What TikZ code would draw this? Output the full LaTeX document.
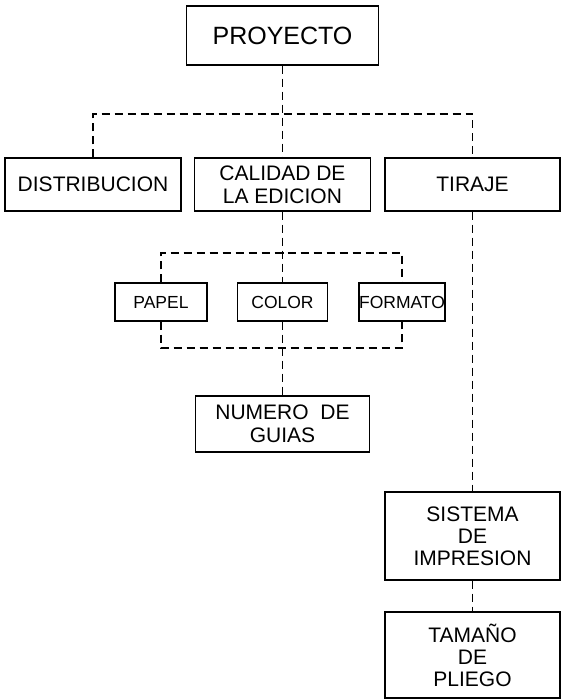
\documentclass[tikz,border=0pt]{standalone}
\usepackage{fontspec}
\setmainfont{Liberation Sans}
\begin{document}
\begin{tikzpicture}[x=1pt,y=1pt,
  bx/.style={draw, line width=1.3pt, inner sep=0pt, align=center,
    font=\fontsize{21}{23}\selectfont},
  sm/.style={bx, font=\fontsize{17.5}{19}\selectfont},
  dl/.style={line width=1.1pt, dash pattern=on 8pt off 5pt}]
\useasboundingbox (0,0) rectangle (562,-700);
\node[bx, minimum width=192, minimum height=59, font=\fontsize{25}{28}\selectfont] (proy) at (282.5,-35.5) {PROYECTO};
\node[bx, minimum width=176, minimum height=53] (dist) at (93,-184.5) {DISTRIBUCION};
\node[bx, minimum width=176, minimum height=53] (cal) at (282.5,-184.5) {CALIDAD DE\\LA EDICION};
\node[bx, minimum width=175, minimum height=53] (tir) at (472.5,-184.5) {TIRAJE};
\node[sm, minimum width=92, minimum height=38] (papel) at (161,-302) {PAPEL};
\node[sm, minimum width=90, minimum height=38] (color) at (282.5,-302) {COLOR};
\node[sm, minimum width=86, minimum height=38] (formato) at (402,-302) {FORMATO};
\node[bx, minimum width=174, minimum height=56] (num) at (282.5,-424) {NUMERO\ \ DE\\GUIAS};
\node[bx, minimum width=175, minimum height=88, font=\fontsize{21}{22}\selectfont] (sis) at (472.5,-536) {SISTEMA\\DE\\IMPRESION};
\node[bx, minimum width=175, minimum height=86, font=\fontsize{21}{22}\selectfont] (tam) at (472.5,-655) {TAMAÑO\\DE\\PLIEGO};
\coordinate (j1) at (282.5,-114);
\coordinate (j2) at (282.5,-253);
\coordinate (j3) at (282.5,-348);
\draw[dl] (proy.south) -- (cal.north);
\draw[dl] (dist.north) |- (j1) -| (tir.north);
\draw[dl] (cal.south) -- (color.north);
\draw[dl] (papel.north) |- (j2) -| (formato.north);
\draw[dl] (papel.south) |- (j3) -| (formato.south);
\draw[dl] (color.south) -- (num.north);
\draw[dl] (tir.south) -- (sis.north);
\draw[dl] (sis.south) -- (tam.north);
\end{tikzpicture}
\end{document}
